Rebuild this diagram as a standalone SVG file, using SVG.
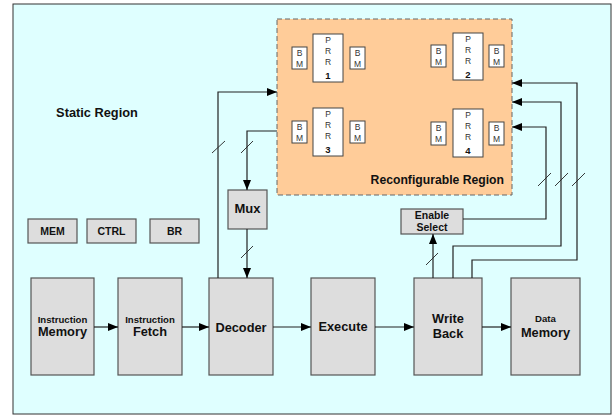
<svg xmlns="http://www.w3.org/2000/svg" width="616" height="418" viewBox="0 0 616 418">
<defs>
<marker id="ah" markerWidth="10" markerHeight="8" refX="10" refY="4" orient="auto" markerUnits="userSpaceOnUse">
<path d="M0,0 L10,4 L0,8 Z" fill="#000"/>
</marker>
<style>
text{font-family:"Liberation Sans",Arial,sans-serif;font-weight:bold;fill:#111;text-anchor:middle}
.blk{fill:#DDDDDD;stroke:#555;stroke-width:1.2}
.wb{fill:#fff;stroke:#444;stroke-width:1}
.c{fill:none;stroke:#222;stroke-width:1.2}
.ca{fill:none;stroke:#222;stroke-width:1.2;marker-end:url(#ah)}
.sl{stroke:#222;stroke-width:0.9}
.sm{font-size:9.6px}
.big{font-size:12.8px}
.sb{font-size:10.5px}
.bm{font-size:8.5px;font-weight:normal;fill:#333}
.pr{font-size:8.5px;font-weight:normal;fill:#333}
.num{font-size:9.5px}
</style>
</defs>
<rect x="13" y="4" width="598" height="410" fill="#DFFFFF" stroke="#333" stroke-width="1"/>
<text x="97" y="116.5" style="font-size:12.8px">Static Region</text>

<g id="reconfigurable-region">
<rect x="277" y="19" width="235" height="176" fill="#FFCC99" stroke="#666" stroke-width="1" stroke-dasharray="5,3"/>
<text x="504" y="184" style="font-size:12.2px;text-anchor:end">Reconfigurable Region</text>
</g>

<g id="prr1">
<rect class="wb" x="292" y="47" width="15" height="22"/><text class="bm" x="299.5" y="55.5">B</text><text class="bm" x="299.5" y="66.5">M</text>
<rect class="wb" x="313" y="34" width="30" height="48"/>
<text class="pr" x="328" y="43">P</text><text class="pr" x="328" y="54">R</text><text class="pr" x="328" y="65">R</text><text class="num" x="328" y="78.7">1</text>
<rect class="wb" x="350" y="47" width="15" height="22"/><text class="bm" x="357.5" y="55.5">B</text><text class="bm" x="357.5" y="66.5">M</text>
</g>
<g id="prr2">
<rect class="wb" x="431" y="45" width="15" height="22"/><text class="bm" x="438.5" y="53.5">B</text><text class="bm" x="438.5" y="64.5">M</text>
<rect class="wb" x="453" y="33" width="30" height="47"/>
<text class="pr" x="468" y="42">P</text><text class="pr" x="468" y="53">R</text><text class="pr" x="468" y="64">R</text><text class="num" x="468" y="77.5">2</text>
<rect class="wb" x="489" y="45" width="15" height="22"/><text class="bm" x="496.5" y="53.5">B</text><text class="bm" x="496.5" y="64.5">M</text>
</g>
<g id="prr3">
<rect class="wb" x="292" y="121" width="15" height="22"/><text class="bm" x="299.5" y="129.5">B</text><text class="bm" x="299.5" y="140.5">M</text>
<rect class="wb" x="313" y="108" width="30" height="48"/>
<text class="pr" x="328" y="117">P</text><text class="pr" x="328" y="128">R</text><text class="pr" x="328" y="139">R</text><text class="num" x="328" y="152.7">3</text>
<rect class="wb" x="350" y="121" width="15" height="22"/><text class="bm" x="357.5" y="129.5">B</text><text class="bm" x="357.5" y="140.5">M</text>
</g>
<g id="prr4">
<rect class="wb" x="431" y="122" width="15" height="23"/><text class="bm" x="438.5" y="131">B</text><text class="bm" x="438.5" y="142">M</text>
<rect class="wb" x="453" y="109" width="30" height="48"/>
<text class="pr" x="468" y="118">P</text><text class="pr" x="468" y="129">R</text><text class="pr" x="468" y="140">R</text><text class="num" x="468" y="153.7">4</text>
<rect class="wb" x="489" y="122" width="15" height="23"/><text class="bm" x="496.5" y="131">B</text><text class="bm" x="496.5" y="142">M</text>
</g>

<g id="mem"><rect class="blk" x="28" y="219" width="49" height="24"/><text class="sb" x="52.5" y="234.5">MEM</text></g>
<g id="ctrl"><rect class="blk" x="87" y="219" width="49" height="24"/><text class="sb" x="111.5" y="234.5">CTRL</text></g>
<g id="br"><rect class="blk" x="150" y="219" width="49" height="24"/><text class="sb" x="174.5" y="234.5">BR</text></g>

<g id="mux"><rect class="blk" x="228" y="190" width="39" height="39"/><text x="247.5" y="213" style="font-size:13px">Mux</text></g>
<g id="enable-select"><rect class="blk" x="401" y="209" width="62" height="25"/><text class="sb" x="432" y="218.5">Enable</text><text class="sb" x="432" y="231">Select</text></g>

<g id="instruction-memory"><rect class="blk" x="31" y="278" width="63" height="97"/><text class="sm" x="62.5" y="323">Instruction</text><text class="big" x="62.5" y="336">Memory</text></g>
<g id="instruction-fetch"><rect class="blk" x="118" y="278" width="64" height="97"/><text class="sm" x="150" y="323">Instruction</text><text class="big" x="150" y="336">Fetch</text></g>
<g id="decoder"><rect class="blk" x="209" y="278" width="64" height="97"/><text class="big" x="241" y="331.5">Decoder</text></g>
<g id="execute"><rect class="blk" x="311" y="278" width="64" height="97"/><text class="big" x="343" y="331">Execute</text></g>
<g id="write-back"><rect class="blk" x="414" y="278" width="68" height="97"/><text class="big" x="448" y="323">Write</text><text class="big" x="448" y="338">Back</text></g>
<g id="data-memory"><rect class="blk" x="511" y="278" width="69" height="97"/><text class="sm" x="545.5" y="322">Data</text><text class="big" x="545.5" y="337">Memory</text></g>

<g id="connectors">
<line class="ca" x1="94" y1="327" x2="118" y2="327"/>
<line class="ca" x1="182" y1="327" x2="209" y2="327"/>
<line class="ca" x1="273" y1="327" x2="311" y2="327"/>
<line class="ca" x1="375" y1="327" x2="414" y2="327"/>
<line class="ca" x1="482" y1="327" x2="511" y2="327"/>

<polyline class="ca" points="218,278 218,92 277,92"/>
<polyline class="ca" points="277,131 247,131 247,190"/>
<line class="ca" x1="247" y1="229" x2="247" y2="278"/>

<line class="ca" x1="433" y1="278" x2="433" y2="234"/>
<polyline class="ca" points="463,219 546,219 546,127 512,127"/>
<polyline class="ca" points="453,278 453,246 561,246 561,102 512,102"/>
<polyline class="ca" points="472,278 472,260 577,260 577,83 512,83"/>

<line class="sl" x1="212" y1="153" x2="225" y2="141"/>
<line class="sl" x1="241" y1="153" x2="253" y2="141"/>
<line class="sl" x1="241" y1="258" x2="253" y2="246"/>
<line class="sl" x1="426" y1="265" x2="438" y2="253"/>
<line class="sl" x1="538" y1="186" x2="551" y2="173"/>
<line class="sl" x1="555" y1="186" x2="568" y2="173"/>
<line class="sl" x1="572" y1="186" x2="585" y2="173"/>
</g>
</svg>
